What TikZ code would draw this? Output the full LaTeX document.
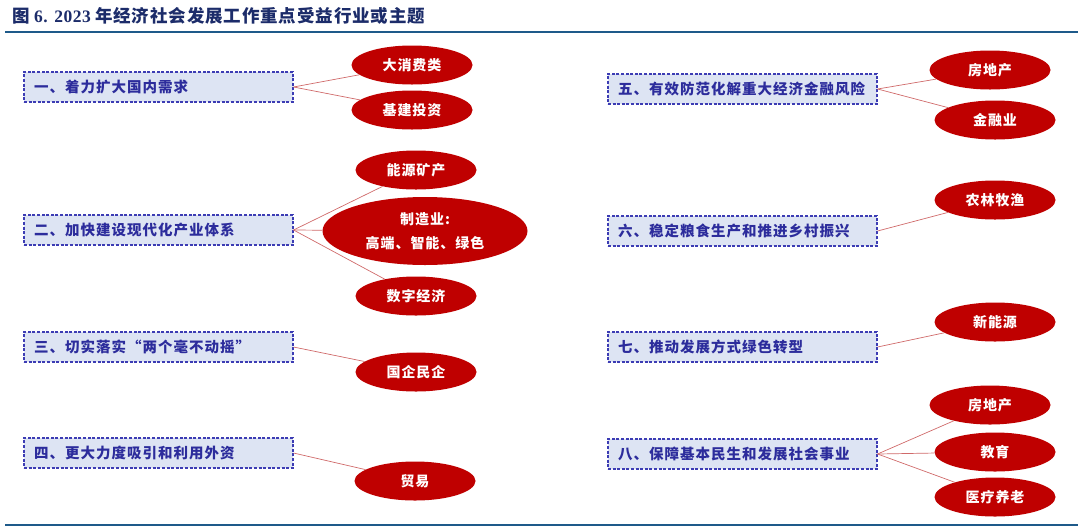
\documentclass[tikz,border=0pt]{standalone}
\usepackage{fontspec}
\setmainfont{Liberation Serif}
\newfontfamily\cjk{Noto Sans CJK SC}[LetterSpace=7]
\newfontfamily\cjkt{Noto Sans CJK SC}[LetterSpace=5]
\newfontfamily\latt{Liberation Serif}[LetterSpace=3]
\usetikzlibrary{shapes.geometric}
\definecolor{titleblue}{HTML}{1C2C6A}
\definecolor{rulecol}{HTML}{1E5A8A}
\definecolor{boxfill}{HTML}{DDE4F3}
\definecolor{boxline}{HTML}{3C3CB4}
\definecolor{boxtext}{HTML}{2C2C9C}
\definecolor{ellred}{HTML}{BF0000}
\definecolor{linkred}{HTML}{D06A6A}
\tikzset{
  box/.style={draw=boxline, fill=boxfill, dash pattern=on 3pt off 1.6pt, line width=1.1pt,
    minimum width=269pt, minimum height=30pt, text width=249pt, inner xsep=10pt, inner ysep=0pt,
    align=left, text=boxtext, font=\cjk\bfseries\fontsize{14.5}{16}\selectfont},
  ell/.style={ellipse, fill=ellred, minimum width=121pt, minimum height=39pt, inner sep=0pt,
    text=white, align=center, font=\cjk\bfseries\fontsize{14}{24}\selectfont},
  link/.style={draw=linkred, line width=0.7pt},
  rulestyle/.style={draw=rulecol, line width=2pt}
}
\begin{document}
\begin{tikzpicture}[x=1pt, y=-1pt]
\useasboundingbox (0,0) rectangle (1078,531);
% title
\node[anchor=west, inner sep=0pt, text=titleblue, font=\bfseries\fontsize{17.5}{19}\selectfont] (title) at (12,16)
  {{\cjkt\bfseries 图} {\latt 6. 2023} {\cjkt\bfseries 年经济社会发展工作重点受益行业或主题}};
\coordinate (r1a) at (5,32); \coordinate (r1b) at (1078,32);
\coordinate (r2a) at (5,525); \coordinate (r2b) at (1078,525);
\draw[rulestyle] (r1a) -- (r1b);
\draw[rulestyle] (r2a) -- (r2b);

% left boxes
\node[box] (b1) at (158.5,87) {一、着力扩大国内需求};
\node[box] (b2) at (158.5,230) {二、加快建设现代化产业体系};
\node[box] (b3) at (158.5,347) {三、切实落实“两个毫不动摇”};
\node[box] (b4) at (158.5,453) {四、更大力度吸引和利用外资};
% right boxes
\node[box] (b5) at (742.5,89) {五、有效防范化解重大经济金融风险};
\node[box] (b6) at (742.5,231) {六、稳定粮食生产和推进乡村振兴};
\node[box] (b7) at (742.5,347) {七、推动发展方式绿色转型};
\node[box] (b8) at (742.5,454) {八、保障基本民生和发展社会事业};

% left ellipses
\node[ell] (e1) at (412,65) {大消费类};
\node[ell] (e2) at (412,110) {基建投资};
\node[ell] (e3) at (416,170) {能源矿产};
\node[ell, minimum width=205pt, minimum height=68pt] (e4) at (425,231) {制造业:\\高端、智能、绿色};
\node[ell] (e5) at (416,296) {数字经济};
\node[ell] (e6) at (416,372) {国企民企};
\node[ell] (e7) at (415,481) {贸易};
% right ellipses
\node[ell] (f1) at (990,70) {房地产};
\node[ell] (f2) at (995,120) {金融业};
\node[ell] (f3) at (995,200) {农林牧渔};
\node[ell] (f4) at (995,322) {新能源};
\node[ell] (f5) at (990,405) {房地产};
\node[ell] (f6) at (995,452) {教育};
\node[ell] (f7) at (995,497) {医疗养老};

% links
\draw[link] (b1.east) -- (e1);
\draw[link] (b1.east) -- (e2);
\draw[link] (b2.east) -- (e3);
\draw[link] (b2.east) -- (e4);
\draw[link] (b2.east) -- (e5);
\draw[link] (b3.east) -- (e6);
\draw[link] (b4.east) -- (e7);
\draw[link] (b5.east) -- (f1);
\draw[link] (b5.east) -- (f2);
\draw[link] (b6.east) -- (f3);
\draw[link] (b7.east) -- (f4);
\draw[link] (b8.east) -- (f5);
\draw[link] (b8.east) -- (f6);
\draw[link] (b8.east) -- (f7);
\end{tikzpicture}
\end{document}
